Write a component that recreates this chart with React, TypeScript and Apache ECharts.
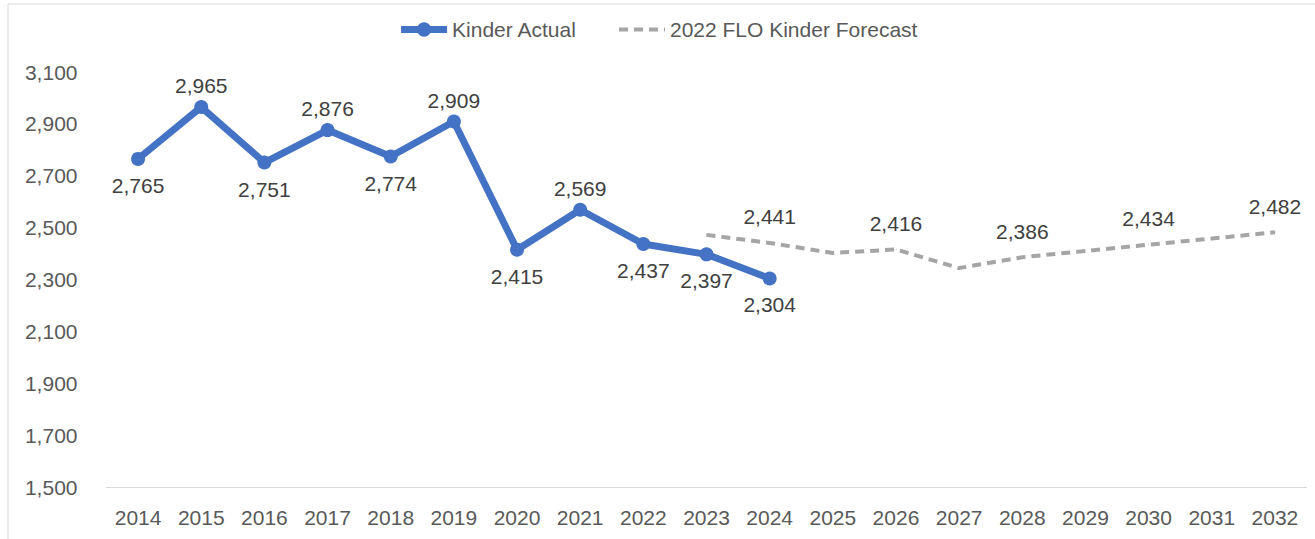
import React, { useEffect, useRef } from "react";
import * as echarts from "echarts";

const years = ["2014","2015","2016","2017","2018","2019","2020","2021","2022","2023","2024","2025","2026","2027","2028","2029","2030","2031","2032"];
const actual = [2765, 2965, 2751, 2876, 2774, 2909, 2415, 2569, 2437, 2397, 2304];
const actualLabelPos = ["bottom","top","bottom","top","bottom","top","bottom","top","bottom","bottom","bottom"];
const forecastStart = 9; // 2023
const forecast = [2472, 2441, 2402, 2416, 2344, 2386, 2410, 2434, 2458, 2482];
const forecastLabelShown = [false, true, false, true, false, true, false, true, false, true];

const FONT = "Liberation Sans, Arial, sans-serif";
const FS = 21;
const fmt = (v: number) => v.toLocaleString("en-US");

export default function App() {
  const ref = useRef<HTMLDivElement>(null);
  useEffect(() => {
    document.body.style.margin = "0";
    const chart = echarts.init(ref.current!, undefined, { renderer: "svg" });
    const actualData = actual.map((v, i) => ({
      value: v,
      label: { position: actualLabelPos[i], distance: actualLabelPos[i] === "top" ? 4 : 9 },
    }));
    const forecastData: any[] = years.map(() => null);
    forecast.forEach((v, i) => {
      forecastData[forecastStart + i] = {
        value: v,
        label: { show: forecastLabelShown[i] },
      };
    });
    chart.setOption({
      animation: false,
      graphic: [
        {
          type: "rect",
          shape: { x: 8, y: 4, width: 1330, height: 560 },
          style: { fill: "none", stroke: "#d9d9d9", lineWidth: 1 },
          silent: true,
        },
      ],
      legend: {
        top: 14,
        left: "center",
        itemWidth: 46,
        itemHeight: 18,
        itemGap: 40,
        textStyle: { fontFamily: FONT, fontSize: FS, color: "#595959" },
        data: [
          { name: "Kinder Actual", lineStyle: { width: 7 } },
          { name: "2022 FLO Kinder Forecast", lineStyle: { width: 4 }, itemStyle: { opacity: 0 } },
        ],
      },
      grid: { left: 106.5, right: 8.5, top: 72, bottom: 52, containLabel: false },
      xAxis: {
        type: "category",
        data: years,
        boundaryGap: true,
        axisLine: { lineStyle: { color: "#d9d9d9", width: 1 } },
        axisTick: { show: false },
        axisLabel: { fontFamily: FONT, fontSize: FS, color: "#595959", margin: 20 },
      },
      yAxis: {
        type: "value",
        min: 1500,
        max: 3100,
        interval: 200,
        splitLine: { show: false },
        axisLine: { show: false },
        axisTick: { show: false },
        axisLabel: {
          fontFamily: FONT,
          fontSize: FS,
          color: "#595959",
          margin: 29,
          formatter: (v: number) => fmt(v),
        },
      },
      series: [
        {
          name: "Kinder Actual",
          type: "line",
          data: actualData,
          symbol: "circle",
          symbolSize: 14,
          lineStyle: { color: "#4472C4", width: 7 },
          itemStyle: { color: "#4472C4" },
          label: {
            show: true,
            fontFamily: FONT,
            fontSize: FS,
            color: "#404040",
            formatter: (p: any) => fmt(p.value),
          },
          z: 3,
        },
        {
          name: "2022 FLO Kinder Forecast",
          type: "line",
          data: forecastData,
          symbol: "circle",
          symbolSize: 1,
          showSymbol: true,
          lineStyle: { color: "#A5A5A5", width: 4, type: [9, 6] },
          itemStyle: { color: "#A5A5A5" },
          label: {
            show: true,
            position: "top",
            distance: 15,
            fontFamily: FONT,
            fontSize: FS,
            color: "#404040",
            formatter: (p: any) => fmt(p.value),
          },
          z: 2,
        },
      ],
    });
    return () => chart.dispose();
  }, []);
  return <div ref={ref} style={{ width: 1315, height: 539 }} />;
}
